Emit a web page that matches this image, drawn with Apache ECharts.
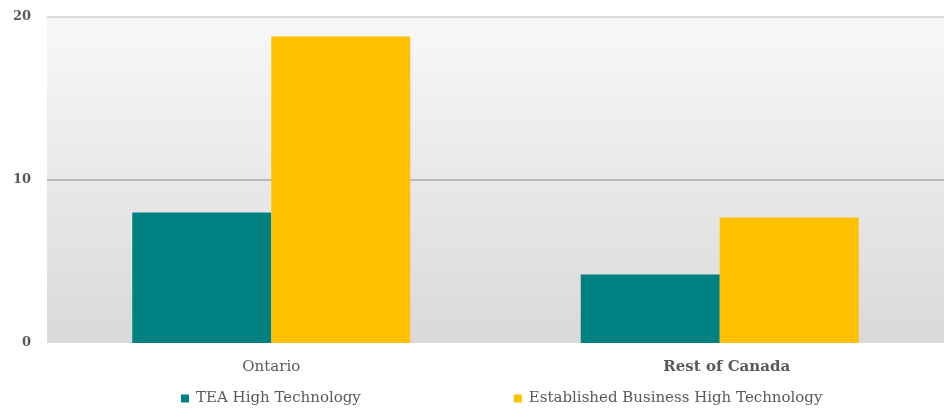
<!DOCTYPE html>
<html>
<head>
<meta charset="utf-8">
<script src="https://cdn.jsdelivr.net/npm/echarts@6/dist/echarts.min.js"></script>
<style>
  html, body { margin: 0; padding: 0; background: #ffffff; }
  #chart { width: 948px; height: 411px; }
</style>
</head>
<body>
<div id="chart"></div>
<script>
// High-technology share by region (%)
const regions = ['Ontario', 'Rest of Canada'];
const teaHighTech = [8.0, 4.2];
const establishedHighTech = [18.8, 7.7];
const seriesNames = ['TEA High Technology', 'Established Business High Technology'];
const yTicks = [0, 10, 20];

const FONT = 'DejaVu Serif';
const TEXT = '#595959';

const chart = echarts.init(document.getElementById('chart'), null, { renderer: 'canvas' });

chart.setOption({
  animation: false,
  backgroundColor: '#ffffff',
  color: ['#008080', '#FFC000'],
  grid: {
    left: 47, right: 4, top: 17, bottom: 68,
    show: true,
    borderWidth: 0,
    backgroundColor: new echarts.graphic.LinearGradient(0, 0, 0, 1, [
      { offset: 0, color: '#f8f8f8' },
      { offset: 1, color: '#d9d9d9' }
    ])
  },
  legend: {
    left: 176,
    bottom: 0,
    itemWidth: 8,
    itemHeight: 8,
    itemGap: 153,
    icon: 'rect',
    textStyle: { fontFamily: FONT, fontSize: 15, color: TEXT, padding: [0, 0, 0, 2] },
    data: seriesNames
  },
  xAxis: {
    type: 'category',
    data: [
      { value: regions[0] },
      { value: regions[1], textStyle: { fontWeight: 'bold', padding: [0, 0, 0, 14] } }
    ],
    axisLine: { show: false },
    axisTick: { show: false },
    axisLabel: { fontFamily: FONT, fontSize: 15, color: TEXT, margin: 17 }
  },
  yAxis: {
    type: 'value',
    min: yTicks[0],
    max: yTicks[yTicks.length - 1],
    interval: yTicks[1] - yTicks[0],
    axisLine: { show: false },
    axisTick: { show: false },
    axisLabel: { fontFamily: FONT, fontSize: 13, fontWeight: 'bold', color: TEXT, margin: 16 },
    splitLine: {
      show: true,
      lineStyle: { color: ['rgba(0,0,0,0)', '#a8a8a8', '#d0d0d0'], width: 1.5 }
    }
  },
  series: [
    {
      name: seriesNames[0],
      type: 'bar',
      data: teaHighTech,
      barWidth: 139,
      barGap: '0%'
    },
    {
      name: seriesNames[1],
      type: 'bar',
      data: establishedHighTech,
      barWidth: 139,
      barGap: '0%'
    }
  ]
});
</script>
</body>
</html>
